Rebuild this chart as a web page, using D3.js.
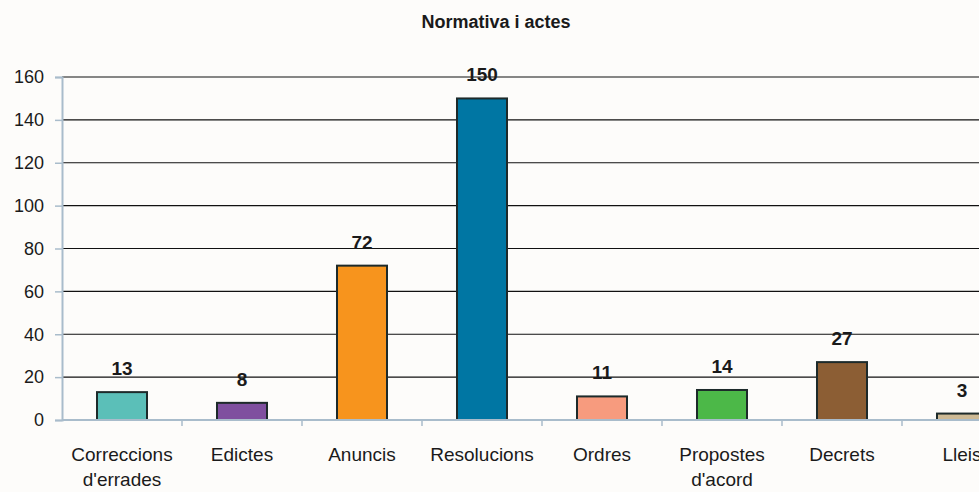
<!DOCTYPE html>
<html>
<head>
<meta charset="utf-8">
<script src="https://cdn.jsdelivr.net/npm/d3@7"></script>
<style>
  body { margin: 0; background: #fdfcfa; }
  svg { display: block; font-family: "Liberation Sans", Arial, sans-serif; }
  .title { font-weight: bold; font-size: 18px; fill: #1a1a1a; }
  .yLabel { font-size: 18px; fill: #1a1a1a; }
  .catLabel { font-size: 19px; fill: #1a1a1a; }
  .valueLabel { font-weight: bold; font-size: 19px; fill: #1a1a1a; }
</style>
</head>
<body>
<svg id="barViz" width="979" height="492"></svg>
<script>
const categories = [
  ["Correccions", "d'errades"],
  ["Edictes"],
  ["Anuncis"],
  ["Resolucions"],
  ["Ordres"],
  ["Propostes", "d'acord"],
  ["Decrets"],
  ["Lleis"],
];
const values = [13, 8, 72, 150, 11, 14, 27, 3];
const barColors = ["#5bbfb8", "#7f4f9f", "#f7941d", "#0076a3", "#f79b7e", "#4cb848", "#8c5e34", "#cdb994"];
const yTicks = [0, 20, 40, 60, 80, 100, 120, 140, 160];

const svg = d3.select("#barViz");
const plotLeft = 62;
const plotRight = 1022; // last band runs past the window edge
const plotTop = 77;
const plotBottom = 420;

const keys = categories.map((c) => c.join(" "));

const x = d3
  .scaleBand()
  .domain(keys)
  .range([plotLeft, plotRight])
  .paddingInner(0.5833)
  .paddingOuter(0.29167);

const y = d3.scaleLinear().domain([0, 160]).range([plotBottom, plotTop]);

svg
  .append("text")
  .attr("class", "title")
  .attr("x", 496)
  .attr("y", 28)
  .attr("text-anchor", "middle")
  .text("Normativa i actes");

// gridlines
svg
  .append("g")
  .selectAll("line")
  .data(yTicks.filter((d) => d > 0))
  .join("line")
  .attr("x1", plotLeft)
  .attr("x2", 979)
  .attr("y1", (d) => y(d))
  .attr("y2", (d) => y(d))
  .attr("stroke", "#111")
  .attr("stroke-width", 1.2);

// y axis
const yAxis = svg
  .append("g")
  .attr("transform", `translate(${plotLeft},0)`)
  .call(d3.axisLeft(y).tickValues(yTicks).tickSize(7).tickPadding(11));
yAxis.select(".domain").attr("stroke", "#a9bccb").attr("stroke-width", 2);
yAxis.selectAll(".tick line").attr("stroke", "#a9bccb").attr("stroke-width", 1.5);
yAxis
  .selectAll(".tick text")
  .attr("class", "yLabel")
  .attr("font-family", null)
  .attr("font-size", null);
yAxis.attr("font-family", null).attr("font-size", null);

// bars
svg
  .append("g")
  .selectAll("rect")
  .data(values)
  .join("rect")
  .attr("x", (d, i) => x(keys[i]))
  .attr("y", (d) => y(d))
  .attr("width", x.bandwidth())
  .attr("height", (d) => y(0) - y(d))
  .attr("fill", (d, i) => barColors[i])
  .attr("stroke", "#1d2a2a")
  .attr("stroke-width", 2);

// x axis line + ticks between categories
svg
  .append("line")
  .attr("x1", plotLeft)
  .attr("x2", 979)
  .attr("y1", plotBottom)
  .attr("y2", plotBottom)
  .attr("stroke", "#a9bccb")
  .attr("stroke-width", 2);

const step = x.step();
svg
  .append("g")
  .selectAll("line")
  .data(keys)
  .join("line")
  .attr("x1", (d) => x(d) + x.bandwidth() / 2 + step / 2)
  .attr("x2", (d) => x(d) + x.bandwidth() / 2 + step / 2)
  .attr("y1", plotBottom)
  .attr("y2", plotBottom + 6)
  .attr("stroke", "#a9bccb")
  .attr("stroke-width", 1.5);

// value labels
svg
  .append("g")
  .selectAll("text")
  .data(values)
  .join("text")
  .attr("class", "valueLabel")
  .attr("x", (d, i) => x(keys[i]) + x.bandwidth() / 2)
  .attr("y", (d) => y(d) - 17)
  .attr("text-anchor", "middle")
  .text((d) => d);

// category labels
const catGroups = svg
  .append("g")
  .selectAll("text")
  .data(categories)
  .join("text")
  .attr("class", "catLabel")
  .attr("x", (d, i) => x(keys[i]) + x.bandwidth() / 2)
  .attr("y", 461)
  .attr("text-anchor", "middle");

catGroups
  .selectAll("tspan")
  .data((d) => d)
  .join("tspan")
  .attr("x", function () {
    return d3.select(this.parentNode).attr("x");
  })
  .attr("dy", (d, i) => (i === 0 ? 0 : 25))
  .text((d) => d);
</script>
</body>
</html>
